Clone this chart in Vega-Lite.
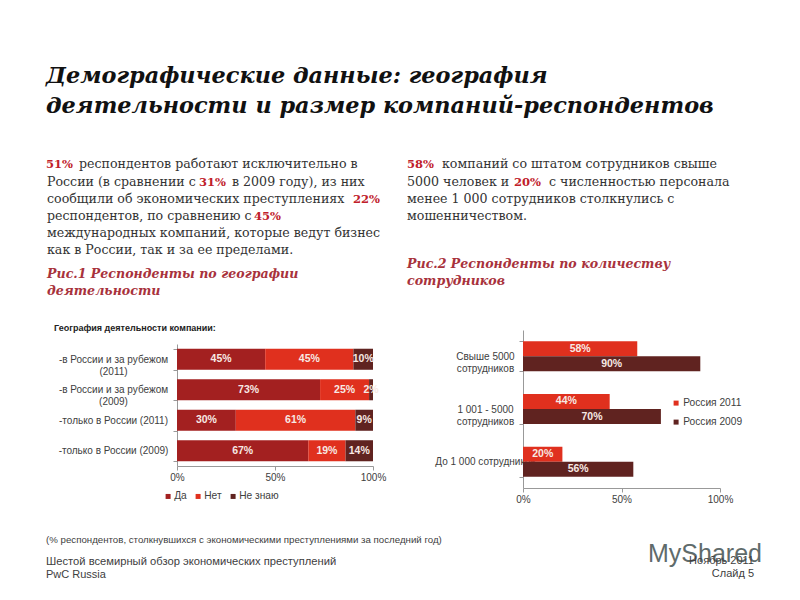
{"$schema":"https://vega.github.io/schema/vega-lite/v6.json","width":800,"height":600,"padding":0,"autosize":"none","background":"white","config":{"view":{"stroke":null},"axis":{"labelFont":"Liberation Sans","labelFontSize":10,"labelColor":"#404040","tickColor":"#999999","domainColor":"#999999","grid":false,"title":null,"labelFlush":false,"tickSize":4},"legend":{"labelFont":"Liberation Sans","labelFontSize":10.2,"labelColor":"#404040","symbolType":"square","symbolSize":25,"title":null,"symbolStrokeWidth":0},"text":{"font":"Liberation Sans"}},"resolve":{"scale":{"x":"independent","y":"independent","color":"independent","yOffset":"independent"},"axis":{"x":"independent","y":"independent"},"legend":{"color":"independent"}},"datasets":{"geo":[{"cat":"-в России и за рубежом|(2011)","answer":"Да","share":0.45,"o":1},{"cat":"-в России и за рубежом|(2011)","answer":"Нет","share":0.45,"o":2},{"cat":"-в России и за рубежом|(2011)","answer":"Не знаю","share":0.10,"o":3},{"cat":"-в России и за рубежом|(2009)","answer":"Да","share":0.73,"o":1},{"cat":"-в России и за рубежом|(2009)","answer":"Нет","share":0.25,"o":2},{"cat":"-в России и за рубежом|(2009)","answer":"Не знаю","share":0.02,"o":3},{"cat":"-только в России (2011)","answer":"Да","share":0.30,"o":1},{"cat":"-только в России (2011)","answer":"Нет","share":0.61,"o":2},{"cat":"-только в России (2011)","answer":"Не знаю","share":0.09,"o":3},{"cat":"-только в России (2009)","answer":"Да","share":0.67,"o":1},{"cat":"-только в России (2009)","answer":"Нет","share":0.19,"o":2},{"cat":"-только в России (2009)","answer":"Не знаю","share":0.14,"o":3}],"size":[{"cat":"Свыше 5000|сотрудников","series":"Россия 2011","share":0.58},{"cat":"Свыше 5000|сотрудников","series":"Россия 2009","share":0.90},{"cat":"1 001 - 5000|сотрудников","series":"Россия 2011","share":0.44},{"cat":"1 001 - 5000|сотрудников","series":"Россия 2009","share":0.70},{"cat":"До 1 000 сотрудников","series":"Россия 2011","share":0.20},{"cat":"До 1 000 сотрудников","series":"Россия 2009","share":0.56}]},"layer":[
{"data":{"name":"geo"},"mark":{"type":"bar"},"encoding":{"x":{"field":"share","type":"quantitative","stack":"zero","scale":{"domain":[0,1],"range":[177,373],"nice":false},"axis":{"values":[0,0.5,1],"format":".0%","offset":-134,"orient":"bottom"}},"y":{"field":"cat","type":"nominal","sort":null,"scale":{"range":[344,466],"paddingInner":0.31,"paddingOuter":0.155},"axis":{"orient":"left","offset":-177,"tickBand":"extent","labelExpr":"split(datum.label,'|')","labelLimit":200,"labelAlign":"center","labelPadding":60,"labelLineHeight":12}},"color":{"field":"answer","type":"nominal","sort":["Да","Нет","Не знаю"],"scale":{"domain":["Да","Нет","Не знаю"],"range":["#A32020","#E0301E","#602320"]},"legend":{"orient":"none","legendX":163,"legendY":491,"direction":"horizontal","columnPadding":6,"labelOffset":1}},"order":{"field":"o"}}},
{"data":{"name":"geo"},"mark":{"type":"text","color":"#f7e9e4","fontWeight":"bold","fontSize":10.5},"encoding":{"x":{"field":"share","type":"quantitative","stack":"zero","bandPosition":0.5,"scale":{"domain":[0,1],"range":[177,373],"nice":false},"axis":null},"y":{"field":"cat","type":"nominal","sort":null,"scale":{"range":[344,466],"paddingInner":0.31,"paddingOuter":0.155},"axis":null},"order":{"field":"o"},"text":{"field":"share","type":"quantitative","format":".0%"}}},
{"data":{"name":"size"},"mark":{"type":"bar"},"encoding":{"x":{"field":"share","type":"quantitative","scale":{"domain":[0,1],"range":[523,720],"nice":false},"axis":{"values":[0,0.5,1],"format":".0%","offset":-112,"orient":"bottom"}},"y":{"field":"cat","type":"nominal","sort":null,"scale":{"range":[330,488],"paddingInner":0.43,"paddingOuter":0.215},"axis":{"orient":"left","offset":-523,"tickBand":"extent","labelExpr":"split(datum.label,'|')","labelLimit":200,"labelAlign":"center","labelPadding":34,"labelLineHeight":12,"encoding":{"labels":{"update":{"dx":{"signal":"datum.value=='До 1 000 сотрудников'?-20:0"}}}}}},"yOffset":{"field":"series","sort":["Россия 2011","Россия 2009"]},"color":{"field":"series","type":"nominal","sort":["Россия 2011","Россия 2009"],"scale":{"domain":["Россия 2011","Россия 2009"],"range":["#E0301E","#602320"]},"legend":{"orient":"none","legendX":671,"legendY":398,"rowPadding":8,"labelOffset":2}}}},
{"data":{"name":"size"},"mark":{"type":"text","color":"#f7e9e4","fontWeight":"bold","fontSize":10.5},"encoding":{"x":{"field":"share","type":"quantitative","stack":"zero","bandPosition":0.5,"scale":{"domain":[0,1],"range":[523,720],"nice":false},"axis":null},"y":{"field":"cat","type":"nominal","sort":null,"scale":{"range":[330,488],"paddingInner":0.43,"paddingOuter":0.215},"axis":null},"yOffset":{"field":"series","sort":["Россия 2011","Россия 2009"]},"detail":{"field":"series"},"text":{"field":"share","type":"quantitative","format":".0%"}}},
{"mark":{"type":"rule","x":33,"x2":753,"y":53,"y2":53,"color":"#a87a6e","strokeWidth":1.2},"encoding":{}},
{"mark":{"type":"rule","x":33,"x2":33,"y":53,"y2":66,"color":"#a87a6e","strokeWidth":1.2},"encoding":{}},
{"mark":{"type":"text","x":46,"y":83,"baseline":"alphabetic","align":"left","font":"DejaVu Serif","fontWeight":"bold","fontStyle":"italic","fontSize":22.4,"color":"#111111"},"data":{"values":[{"t":"Демографические данные: география"}]},"encoding":{"text":{"field":"t"}}},
{"mark":{"type":"text","x":46,"y":113,"baseline":"alphabetic","align":"left","font":"DejaVu Serif","fontWeight":"bold","fontStyle":"italic","fontSize":22.4,"color":"#111111"},"data":{"values":[{"t":"деятельности и размер компаний-респондентов"}]},"encoding":{"text":{"field":"t"}}},
{"mark":{"type":"text","x":46,"y":168,"baseline":"alphabetic","align":"left","font":"DejaVu Serif","fontWeight":"bold","fontSize":11.5,"color":"#C0202A"},"data":{"values":[{"t":"51%"}]},"encoding":{"text":{"field":"t"}}},
{"mark":{"type":"text","x":79,"y":168,"baseline":"alphabetic","align":"left","font":"DejaVu Serif","fontSize":12.6,"color":"#333333"},"data":{"values":[{"t":"респондентов работают исключительно в"}]},"encoding":{"text":{"field":"t"}}},
{"mark":{"type":"text","x":47,"y":186,"baseline":"alphabetic","align":"left","font":"DejaVu Serif","fontSize":12.6,"color":"#333333"},"data":{"values":[{"t":"России (в сравнении с"}]},"encoding":{"text":{"field":"t"}}},
{"mark":{"type":"text","x":199,"y":186,"baseline":"alphabetic","align":"left","font":"DejaVu Serif","fontWeight":"bold","fontSize":11.5,"color":"#C0202A"},"data":{"values":[{"t":"31%"}]},"encoding":{"text":{"field":"t"}}},
{"mark":{"type":"text","x":232,"y":186,"baseline":"alphabetic","align":"left","font":"DejaVu Serif","fontSize":12.6,"color":"#333333"},"data":{"values":[{"t":"в 2009 году), из них"}]},"encoding":{"text":{"field":"t"}}},
{"mark":{"type":"text","x":47,"y":203,"baseline":"alphabetic","align":"left","font":"DejaVu Serif","fontSize":12.6,"color":"#333333"},"data":{"values":[{"t":"сообщили об экономических преступлениях"}]},"encoding":{"text":{"field":"t"}}},
{"mark":{"type":"text","x":353,"y":203,"baseline":"alphabetic","align":"left","font":"DejaVu Serif","fontWeight":"bold","fontSize":11.5,"color":"#C0202A"},"data":{"values":[{"t":"22%"}]},"encoding":{"text":{"field":"t"}}},
{"mark":{"type":"text","x":47,"y":220,"baseline":"alphabetic","align":"left","font":"DejaVu Serif","fontSize":12.6,"color":"#333333"},"data":{"values":[{"t":"респондентов, по сравнению с"}]},"encoding":{"text":{"field":"t"}}},
{"mark":{"type":"text","x":254,"y":220,"baseline":"alphabetic","align":"left","font":"DejaVu Serif","fontWeight":"bold","fontSize":11.5,"color":"#C0202A"},"data":{"values":[{"t":"45%"}]},"encoding":{"text":{"field":"t"}}},
{"mark":{"type":"text","x":47,"y":237,"baseline":"alphabetic","align":"left","font":"DejaVu Serif","fontSize":12.6,"color":"#333333"},"data":{"values":[{"t":"международных компаний, которые ведут бизнес"}]},"encoding":{"text":{"field":"t"}}},
{"mark":{"type":"text","x":47,"y":254,"baseline":"alphabetic","align":"left","font":"DejaVu Serif","fontSize":12.6,"color":"#333333"},"data":{"values":[{"t":"как в России, так и за ее пределами."}]},"encoding":{"text":{"field":"t"}}},
{"mark":{"type":"text","x":47,"y":278,"baseline":"alphabetic","align":"left","font":"DejaVu Serif","fontWeight":"bold","fontStyle":"italic","fontSize":12.6,"color":"#A8323C"},"data":{"values":[{"t":"Рис.1 Респонденты по географии"}]},"encoding":{"text":{"field":"t"}}},
{"mark":{"type":"text","x":47,"y":295,"baseline":"alphabetic","align":"left","font":"DejaVu Serif","fontWeight":"bold","fontStyle":"italic","fontSize":12.6,"color":"#A8323C"},"data":{"values":[{"t":"деятельности"}]},"encoding":{"text":{"field":"t"}}},
{"mark":{"type":"text","x":407,"y":168,"baseline":"alphabetic","align":"left","font":"DejaVu Serif","fontWeight":"bold","fontSize":11.5,"color":"#C0202A"},"data":{"values":[{"t":"58%"}]},"encoding":{"text":{"field":"t"}}},
{"mark":{"type":"text","x":442,"y":168,"baseline":"alphabetic","align":"left","font":"DejaVu Serif","fontSize":12.6,"color":"#333333"},"data":{"values":[{"t":"компаний со штатом сотрудников свыше"}]},"encoding":{"text":{"field":"t"}}},
{"mark":{"type":"text","x":407,"y":186,"baseline":"alphabetic","align":"left","font":"DejaVu Serif","fontSize":12.6,"color":"#333333"},"data":{"values":[{"t":"5000 человек и"}]},"encoding":{"text":{"field":"t"}}},
{"mark":{"type":"text","x":514,"y":186,"baseline":"alphabetic","align":"left","font":"DejaVu Serif","fontWeight":"bold","fontSize":11.5,"color":"#C0202A"},"data":{"values":[{"t":"20%"}]},"encoding":{"text":{"field":"t"}}},
{"mark":{"type":"text","x":549,"y":186,"baseline":"alphabetic","align":"left","font":"DejaVu Serif","fontSize":12.6,"color":"#333333"},"data":{"values":[{"t":"с численностью персонала"}]},"encoding":{"text":{"field":"t"}}},
{"mark":{"type":"text","x":407,"y":203,"baseline":"alphabetic","align":"left","font":"DejaVu Serif","fontSize":12.6,"color":"#333333"},"data":{"values":[{"t":"менее 1 000 сотрудников столкнулись с"}]},"encoding":{"text":{"field":"t"}}},
{"mark":{"type":"text","x":407,"y":220,"baseline":"alphabetic","align":"left","font":"DejaVu Serif","fontSize":12.6,"color":"#333333"},"data":{"values":[{"t":"мошенничеством."}]},"encoding":{"text":{"field":"t"}}},
{"mark":{"type":"text","x":407,"y":268,"baseline":"alphabetic","align":"left","font":"DejaVu Serif","fontWeight":"bold","fontStyle":"italic","fontSize":12.6,"color":"#A8323C"},"data":{"values":[{"t":"Рис.2 Респонденты по количеству"}]},"encoding":{"text":{"field":"t"}}},
{"mark":{"type":"text","x":407,"y":285,"baseline":"alphabetic","align":"left","font":"DejaVu Serif","fontWeight":"bold","fontStyle":"italic","fontSize":12.6,"color":"#A8323C"},"data":{"values":[{"t":"сотрудников"}]},"encoding":{"text":{"field":"t"}}},
{"mark":{"type":"text","x":54,"y":331,"baseline":"alphabetic","align":"left","fontWeight":"bold","fontSize":9,"color":"#222222"},"data":{"values":[{"t":"География деятельности компании:"}]},"encoding":{"text":{"field":"t"}}},
{"mark":{"type":"text","x":46,"y":543,"baseline":"alphabetic","align":"left","fontSize":9.7,"color":"#404040"},"data":{"values":[{"t":"(% респондентов, столкнувшихся с экономическими преступлениями за последний год)"}]},"encoding":{"text":{"field":"t"}}},
{"mark":{"type":"text","x":46,"y":565,"baseline":"alphabetic","align":"left","fontSize":11.2,"color":"#404040"},"data":{"values":[{"t":"Шестой всемирный обзор экономических преступлений"}]},"encoding":{"text":{"field":"t"}}},
{"mark":{"type":"text","x":46,"y":578,"baseline":"alphabetic","align":"left","fontSize":11,"color":"#404040"},"data":{"values":[{"t":"PwC Russia"}]},"encoding":{"text":{"field":"t"}}},
{"mark":{"type":"text","x":648,"y":562,"baseline":"alphabetic","align":"left","fontSize":25,"color":"#5f6b6b"},"data":{"values":[{"t":"MyShared"}]},"encoding":{"text":{"field":"t"}}},
{"mark":{"type":"text","x":754,"y":564,"baseline":"alphabetic","align":"right","fontSize":11,"color":"#404040"},"data":{"values":[{"t":"Ноябрь 2011"}]},"encoding":{"text":{"field":"t"}}},
{"mark":{"type":"text","x":754,"y":577,"baseline":"alphabetic","align":"right","fontSize":11,"color":"#404040"},"data":{"values":[{"t":"Слайд 5"}]},"encoding":{"text":{"field":"t"}}},
{"mark":{"type":"rule","x":609,"x2":640,"y":541,"y2":541,"color":"#5f6b6b","strokeWidth":2},"encoding":{}},
{"mark":{"type":"rect","x":615,"x2":640,"y":542,"y2":561,"fill":"white","stroke":"#5f6b6b","strokeWidth":2},"encoding":{}},
{"mark":{"type":"rule","x":609,"x2":609,"y":541,"y2":558,"color":"#5f6b6b","strokeWidth":2},"encoding":{}},
{"mark":{"type":"rect","x":620,"x2":623,"y":555,"y2":558,"fill":"#5f6b6b"},"encoding":{}},
{"mark":{"type":"rect","x":626,"x2":629,"y":552,"y2":558,"fill":"#5f6b6b"},"encoding":{}},
{"mark":{"type":"rect","x":632,"x2":635,"y":548,"y2":558,"fill":"#5f6b6b"},"encoding":{}},
{"mark":{"type":"rule","x":622,"x2":619,"y":562,"y2":572,"color":"#5f6b6b","strokeWidth":1.5},"encoding":{}},
{"mark":{"type":"rule","x":627.5,"x2":627.5,"y":562,"y2":572,"color":"#5f6b6b","strokeWidth":1.5},"encoding":{}},
{"mark":{"type":"rule","x":633,"x2":636,"y":562,"y2":572,"color":"#5f6b6b","strokeWidth":1.5},"encoding":{}}
]}
